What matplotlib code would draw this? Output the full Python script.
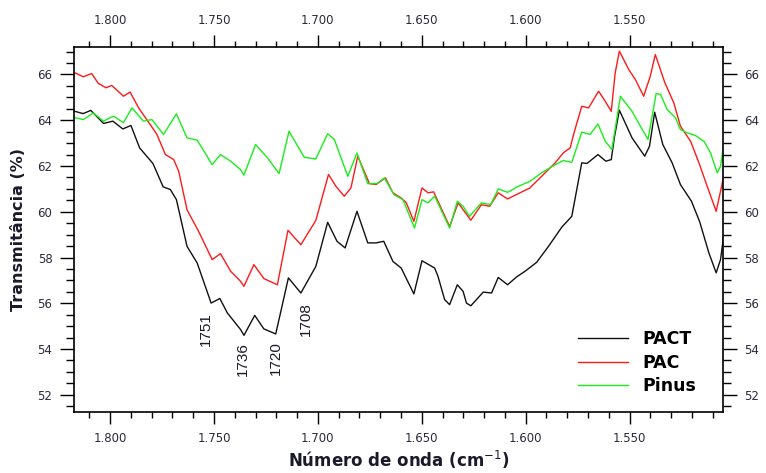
import matplotlib
matplotlib.use("Agg")
import matplotlib.pyplot as plt
from matplotlib.ticker import MultipleLocator, FuncFormatter

# FTIR spectra (wavenumber in cm-1, transmittance in %)
wn_pact = [1817.0, 1813.0, 1809.3, 1803.2, 1798.7, 1793.9, 1790.0, 1785.8, 1779.4, 1774.5,
           1771.0, 1768.1, 1763.0, 1758.1, 1751.4, 1747.2, 1743.6, 1737.2, 1735.6, 1730.4,
           1726.0, 1720.3, 1714.2, 1708.2, 1701.0, 1695.3, 1690.8, 1686.9, 1681.2, 1676.0,
           1672.0, 1668.3, 1663.9, 1659.9, 1653.8, 1649.9, 1643.8, 1642.2, 1639.0, 1636.6,
           1632.9, 1630.1, 1628.5, 1626.4, 1620.4, 1616.4, 1613.2, 1608.7, 1604.4, 1600.3,
           1594.7, 1589.0, 1582.6, 1577.8, 1573.0, 1570.5, 1565.2, 1561.4, 1558.8, 1557.2,
           1554.9, 1548.8, 1542.7, 1540.4, 1537.9, 1534.0, 1529.5, 1525.5, 1520.2, 1516.3,
           1511.8, 1508.3, 1506.2, 1504.0]
t_pact = [64.39, 64.29, 64.43, 63.86, 63.96, 63.62, 63.77, 62.79, 62.11, 61.09,
          60.97, 60.53, 58.49, 57.76, 56.01, 56.21, 55.58, 54.85, 54.60, 55.47,
          54.88, 54.66, 57.11, 56.45, 57.61, 59.54, 58.71, 58.42, 60.02, 58.64,
          58.64, 58.71, 57.83, 57.54, 56.41, 57.86, 57.54, 57.18, 56.16, 55.94,
          56.81, 56.52, 56.01, 55.89, 56.49, 56.45, 57.13, 56.81, 57.15, 57.40,
          57.79, 58.49, 59.33, 59.80, 62.14, 62.11, 62.50, 62.21, 62.28, 63.30,
          64.44, 63.23, 62.43, 62.86, 64.35, 62.94, 62.14, 61.19, 60.46, 59.58,
          58.20, 57.33, 57.91, 59.44]

wn_pac = [1816.9, 1812.9, 1808.9, 1805.7, 1802.0, 1799.2, 1793.6, 1790.4, 1786.3, 1780.7,
          1777.5, 1773.4, 1769.4, 1767.0, 1763.0, 1757.4, 1750.9, 1746.9, 1742.0, 1737.2,
          1735.6, 1730.8, 1726.0, 1719.5, 1714.4, 1708.2, 1701.0, 1694.9, 1691.3, 1687.3,
          1684.1, 1680.8, 1675.2, 1672.0, 1667.5, 1663.9, 1659.9, 1657.5, 1653.8, 1649.9,
          1647.0, 1644.3, 1636.6, 1632.5, 1626.4, 1621.3, 1617.3, 1613.2, 1608.7, 1603.6,
          1598.0, 1592.3, 1585.8, 1581.8, 1578.6, 1576.5, 1573.0, 1569.7, 1564.9, 1561.7,
          1558.8, 1556.9, 1554.9, 1550.4, 1547.2, 1543.2, 1540.0, 1537.6, 1533.0, 1528.7,
          1525.5, 1520.6, 1516.6, 1512.6, 1508.3, 1505.7, 1504.0]
t_pac = [66.07, 65.90, 66.04, 65.61, 65.42, 65.52, 65.05, 65.23, 64.54, 63.81,
         63.38, 62.50, 62.28, 61.77, 60.09, 59.14, 57.91, 58.17, 57.40, 56.96,
         56.74, 57.69, 57.08, 56.81, 59.19, 58.56, 59.62, 61.63, 61.11, 60.68,
         61.04, 62.43, 61.23, 61.19, 61.48, 60.83, 60.60, 60.40, 59.58, 61.04,
         60.83, 60.87, 59.36, 60.39, 59.63, 60.31, 60.24, 60.83, 60.56, 60.79,
         61.04, 61.55, 62.14, 62.58, 62.79, 63.52, 64.61, 64.54, 65.27, 64.83,
         64.39, 66.07, 67.02, 66.22, 65.78, 65.05, 65.93, 66.87, 65.64, 64.76,
         63.74, 63.08, 62.14, 61.11, 60.02, 61.11, 61.84]

wn_pinus = [1816.9, 1812.9, 1808.1, 1803.2, 1798.4, 1793.6, 1789.5, 1784.0, 1779.9, 1774.3,
            1768.1, 1763.0, 1758.1, 1750.9, 1746.9, 1742.0, 1737.2, 1735.6, 1730.0, 1724.3,
            1718.7, 1713.9, 1706.6, 1701.0, 1695.3, 1692.1, 1685.6, 1681.2, 1676.0, 1671.5,
            1668.0, 1663.4, 1659.1, 1653.5, 1649.9, 1647.0, 1643.8, 1636.6, 1632.9, 1630.1,
            1627.0, 1621.3, 1616.8, 1613.2, 1608.7, 1603.6, 1598.0, 1592.3, 1585.8, 1581.8,
            1577.8, 1573.0, 1569.0, 1565.2, 1561.7, 1558.5, 1554.4, 1548.8, 1544.8, 1541.1,
            1537.2, 1535.1, 1531.9, 1527.9, 1525.5, 1522.2, 1518.2, 1514.2, 1511.0, 1507.8,
            1506.2, 1504.0]
t_pinus = [64.11, 64.03, 64.32, 63.96, 64.18, 63.89, 64.54, 63.96, 64.03, 63.38,
           64.28, 63.23, 63.13, 62.06, 62.50, 62.21, 61.84, 61.60, 62.94, 62.36,
           61.67, 63.52, 62.38, 62.31, 63.41, 63.16, 61.55, 62.57, 61.23, 61.23,
           61.48, 60.75, 60.53, 59.29, 60.53, 60.39, 60.68, 59.29, 60.46, 60.24,
           59.80, 60.39, 60.31, 61.00, 60.85, 61.11, 61.33, 61.70, 62.06, 62.24,
           62.16, 63.48, 63.38, 63.84, 63.08, 62.72, 65.05, 64.39, 63.74, 63.16,
           65.17, 65.13, 64.47, 64.11, 63.59, 63.45, 63.33, 63.08, 62.57, 61.70,
           61.99, 63.33]

band_labels = ["1751", "1736", "1720", "1708"]
band_x = [1754.0, 1736.0, 1720.3, 1705.8]
band_y = [55.6, 54.3, 54.35, 56.05]

series_names = ["PACT", "PAC", "Pinus"]
series_colors = ["#111111", "#ff1a1a", "#1aee1a"]

plt.rcParams['font.family'] = ['DejaVu Sans']
fig = plt.figure(figsize=(7.66, 4.73), dpi=100)
ax = fig.add_axes([0.0966, 0.129, 0.8473, 0.7716])

for wn, t, name, c in zip([wn_pact, wn_pac, wn_pinus], [t_pact, t_pac, t_pinus],
                          series_names, series_colors):
    ax.plot(wn, t, color=c, lw=1.0, label=name)

ax.set_xlim(1817.4, 1505.0)
ax.set_ylim(51.25, 67.2)

ax.xaxis.set_major_locator(MultipleLocator(50))
ax.xaxis.set_minor_locator(MultipleLocator(10))
ax.yaxis.set_major_locator(MultipleLocator(2))
ax.yaxis.set_minor_locator(MultipleLocator(0.5))
ax.xaxis.set_major_formatter(FuncFormatter(lambda v, p: f"{v/1000:.3f}"))
ax.yaxis.set_major_formatter(FuncFormatter(lambda v, p: f"{v:.0f}"))

tick_color = "#2a2a3a"
ax.tick_params(axis='x', which='major', direction='out', length=8.5, width=1.0,
               top=True, labeltop=True, bottom=True, labelbottom=True,
               labelsize=8.5, labelcolor=tick_color, pad=6)
ax.tick_params(axis='x', which='minor', direction='out', length=4.5, width=1.0,
               top=True, bottom=True)
ax.tick_params(axis='y', which='major', direction='out', length=10, width=1.0,
               left=True, right=True, labelleft=True, labelright=True,
               labelsize=8.5, labelcolor=tick_color, pad=5.5)
ax.tick_params(axis='y', which='minor', direction='out', length=5.8, width=1.0,
               left=True, right=True)
for s in ax.spines.values():
    s.set_linewidth(1.2)

ax.set_xlabel("Número de onda (cm$^{-1}$)", fontsize=12, fontweight='bold',
              color="#1a1a2a", labelpad=3)
ax.set_ylabel("Transmitância (%)", fontsize=11.5, fontweight='bold',
              color="#1a1a2a", labelpad=8)

for lab, x, y in zip(band_labels, band_x, band_y):
    ax.text(x, y, lab, rotation=90, ha='center', va='top', fontsize=11,
            family='Liberation Sans', color="#1a1a2a")

leg = ax.legend(loc='lower left', bbox_to_anchor=(0.752, 0.003), frameon=False,
                handlelength=2.9, handletextpad=0.8, labelspacing=0.32,
                prop={'weight': 'bold', 'size': 12.5})

fig.savefig("out.png", dpi=100)
